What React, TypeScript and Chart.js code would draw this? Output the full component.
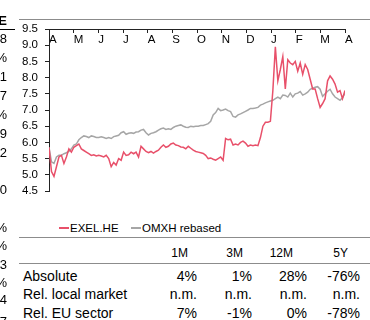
import React, { useEffect, useRef } from 'react';
import { Chart, registerables } from 'chart.js';

Chart.register(...registerables);

// ---------- data ----------
const monthLabels = ['A', 'M', 'J', 'J', 'A', 'S', 'O', 'N', 'D', 'J', 'F', 'M', 'A'];

const exelValues = [
  5.85, 5.1, 4.95, 5.25, 5.55, 5.6, 5.35, 5.55, 5.8, 5.7,
  5.85, 5.9, 5.95, 5.8, 5.75, 5.7, 5.65, 5.6, 5.62, 5.58,
  5.6, 5.58, 5.55, 5.6, 5.5, 5.25, 5.38, 5.3, 5.5, 5.45,
  5.7, 5.6, 5.62, 5.7, 5.65, 5.7, 5.55, 5.88, 5.8, 5.72,
  5.68, 5.72, 5.67, 5.72, 5.76, 5.85, 5.92, 5.85, 5.88, 5.95,
  5.98, 5.92, 5.9, 5.86, 5.85, 5.8, 5.88, 5.82, 5.76, 5.72,
  5.7, 5.68, 5.66, 5.6, 5.5, 5.52, 5.48, 5.45, 5.5, 5.55,
  5.45, 6.12, 6.08, 6.1, 5.92, 5.95, 5.92, 6.0, 6.04, 5.98,
  5.88, 5.92, 5.9, 5.92, 5.9, 6.15, 6.5, 6.62, 6.62, 6.65,
  7.6, 8.95, 7.9, 8.25, 8.65, 7.65, 8.55, 8.45, 8.4, 8.5,
  8.2, 8.45, 8.1, 8.4, 8.25, 7.95, 7.65, 7.65, 7.35, 7.08,
  7.2, 7.35, 7.9, 8.05, 7.95, 7.8, 7.55, 7.6, 7.35, 7.6,
];

const omxhValues = [
  5.85, 5.4, 5.35, 5.55, 5.6, 5.6, 5.65, 5.68, 5.72, 5.8,
  5.92, 5.95, 6.08, 6.15, 6.2, 6.18, 6.15, 6.2, 6.18, 6.15,
  6.15, 6.17, 6.15, 6.12, 6.15, 6.12, 6.18, 6.2, 6.22, 6.3,
  6.33, 6.25, 6.28, 6.3, 6.28, 6.32, 6.33, 6.38, 6.4, 6.3,
  6.23, 6.28, 6.3, 6.33, 6.38, 6.42, 6.44, 6.4, 6.42, 6.4,
  6.46, 6.5, 6.52, 6.54, 6.5, 6.47, 6.46, 6.5, 6.48, 6.5,
  6.5, 6.52, 6.52, 6.55, 6.58, 6.65, 6.85, 6.92, 7.05, 6.98,
  7.0, 7.03, 6.98, 6.95, 6.8, 6.78, 6.85, 6.88, 6.92, 6.96,
  7.0, 7.05, 7.05, 7.06, 7.08, 7.15, 7.18, 7.22, 7.25, 7.28,
  7.3, 7.35, 7.4, 7.35, 7.46, 7.45, 7.4, 7.52, 7.4, 7.5,
  7.52, 7.57, 7.46, 7.5, 7.55, 7.64, 7.67, 7.7, 7.72, 7.64,
  7.42, 7.5, 7.58, 7.64, 7.5, 7.4, 7.35, 7.3, 7.38, 7.52,
];

const seriesLabels = ['EXEL.HE', 'OMXH rebased'];
const periodHeaders = ['1M', '3M', '12M', '5Y'];
const rowLabels = ['Absolute', 'Rel. local market', 'Rel. EU sector'];
const absoluteRow = ['4%', '1%', '28%', '-76%'];
const relLocalRow = ['n.m.', 'n.m.', 'n.m.', 'n.m.'];
const relEuRow = ['7%', '-1%', '0%', '-78%'];
const leftHeading = 'E';
const leftFragments = ['8', '%', '1', '7', '%', '9', '2', '0', '%', '%', '3', '%', '4', '7'];

// ---------- styles / layout ----------
const FONT = "'Liberation Sans', Arial, Helvetica, sans-serif";
const RED = '#E8506A';
const GRAY = '#A6A6A6';
const AXIS = '#222222';
const RULE = '#8C8C8C';

const leftFragY = [39, 58, 77, 96, 115, 134, 153, 190, 228, 246, 265, 283, 300, 322];
const headerRight = [188, 243, 293, 348];
const valueRight = [197, 252, 307, 360];
const rowY = [276, 294, 313];

type TP = { x: number; y: number; size: number; align?: 'left' | 'right'; bold?: boolean; children: React.ReactNode };
function Txt({ x, y, size, align = 'left', bold, children }: TP) {
  const lh = Math.round(size * 1.2);
  const style: React.CSSProperties = {
    position: 'absolute',
    top: y - lh / 2,
    fontSize: size,
    lineHeight: `${lh}px`,
    fontWeight: bold ? 700 : 400,
    whiteSpace: 'nowrap',
    color: '#000',
  };
  if (align === 'left') style.left = x;
  else style.right = 370 - x;
  return <div style={style}>{children}</div>;
}

function Rule({ x, y, w, color, h = 1 }: { x: number; y: number; w: number; color: string; h?: number }) {
  return <div style={{ position: 'absolute', left: x, top: y, width: w, height: h, background: color }} />;
}

export default function App() {
  const ref = useRef<HTMLCanvasElement>(null);

  useEffect(() => {
    const canvas = ref.current;
    if (!canvas) return;
    const toPts = (arr: number[]) => arr.map((v, i) => ({ x: (i * 12) / (arr.length - 1), y: v }));
    const tickFont = { family: FONT, size: 11.5 };
    const chart = new Chart(canvas, {
      type: 'line',
      data: {
        datasets: [
          { label: seriesLabels[0], data: toPts(exelValues), borderColor: RED, borderWidth: 1.5, pointRadius: 0, tension: 0, fill: false },
          { label: seriesLabels[1], data: toPts(omxhValues), borderColor: GRAY, borderWidth: 1.5, pointRadius: 0, tension: 0, fill: false },
        ],
      },
      options: {
        responsive: false,
        animation: false,
        events: [],
        layout: { padding: { top: 29, left: 19, right: 25, bottom: 19 } },
        plugins: { legend: { display: false }, tooltip: { enabled: false } },
        scales: {
          x: {
            type: 'linear',
            position: 'top',
            min: 0,
            max: 12,
            afterFit: (s: any) => { s.height = 0; },
            grid: { drawOnChartArea: false, drawTicks: true, tickLength: -4, color: AXIS, lineWidth: 1 },
            border: { display: true, color: AXIS, width: 1 },
            ticks: {
              stepSize: 1,
              autoSkip: false,
              maxRotation: 0,
              minRotation: 0,
              mirror: true,
              padding: 4,
              align: 'start',
              color: '#000',
              font: tickFont,
              callback: (_v: any, i: number) => monthLabels[i] ?? '',
            },
          },
          y: {
            type: 'linear',
            min: 4.5,
            max: 9.5,
            afterFit: (s: any) => { s.width = 30; },
            grid: { drawOnChartArea: false, drawTicks: true, tickLength: 4, color: AXIS, lineWidth: 1 },
            border: { display: true, color: AXIS, width: 1 },
            ticks: {
              stepSize: 0.5,
              autoSkip: false,
              padding: 7,
              color: '#000',
              font: tickFont,
              callback: (v: any) => Number(v).toFixed(1),
            },
          },
        },
      },
    } as any);
    return () => chart.destroy();
  }, []);

  return (
    <div
      style={{
        position: 'absolute',
        left: 0,
        top: 0,
        width: 370,
        height: 320,
        overflow: 'hidden',
        background: '#fff',
        fontFamily: FONT,
      }}
    >
      <canvas ref={ref} width={370} height={210} style={{ position: 'absolute', left: 0, top: 0, width: 370, height: 210 }} />

      {/* cut-off neighbouring column */}
      <Txt x={7} y={21} size={13} align="right" bold>{leftHeading}</Txt>
      <Rule x={0} y={29} w={15} color="#000" />
      {leftFragments.map((t, i) => (
        <Txt key={'lf' + i} x={7} y={leftFragY[i]} size={13} align="right">{t}</Txt>
      ))}

      <Rule x={19} y={19} w={351} color={RULE} />

      {/* legend */}
      <Rule x={59} y={227} w={10} h={2} color={RED} />
      <Txt x={70} y={228} size={11.5}>{seriesLabels[0]}</Txt>
      <Rule x={131} y={227} w={10} h={2} color={GRAY} />
      <Txt x={142} y={228} size={11.5}>{seriesLabels[1]}</Txt>

      {/* performance table */}
      <Rule x={19} y={237} w={351} color={RULE} />
      {periodHeaders.map((h, i) => (
        <Txt key={'h' + i} x={headerRight[i]} y={253} size={12} align="right">{h}</Txt>
      ))}
      <Rule x={19} y={263} w={351} color={RULE} />
      {rowLabels.map((r, i) => (
        <Txt key={'r' + i} x={23} y={rowY[i]} size={14}>{r}</Txt>
      ))}
      {[absoluteRow, relLocalRow, relEuRow].map((row, ri) =>
        row.map((v, ci) => (
          <Txt key={'v' + ri + '_' + ci} x={valueRight[ci]} y={rowY[ri]} size={14} align="right">{v}</Txt>
        ))
      )}
    </div>
  );
}
